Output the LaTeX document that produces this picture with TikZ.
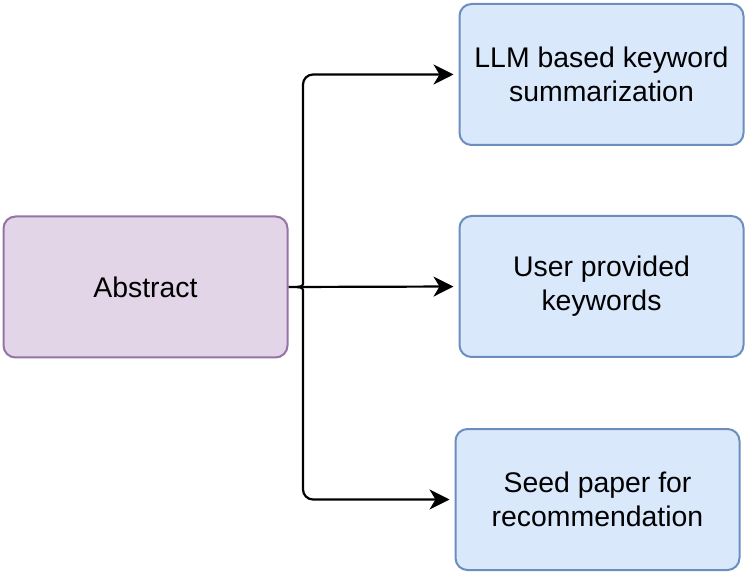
\documentclass[tikz,border=0pt]{standalone}
\usepackage{fontspec}
\setmainfont{Liberation Sans}
\usetikzlibrary{arrows.meta, positioning}

\definecolor{purpfill}{HTML}{E1D5E7}
\definecolor{purpline}{HTML}{9673A6}
\definecolor{bluefill}{HTML}{DAE8FC}
\definecolor{blueline}{HTML}{6C8EBF}

\begin{document}
\begin{tikzpicture}[
  x=0.5pt, y=-0.5pt,
  box/.style    = {draw, rounded corners=6pt, line width=1pt,
                   minimum width=142pt, minimum height=70.5pt,
                   align=center, font=\fontsize{14.2}{17}\selectfont},
  absbox/.style = {box, fill=purpfill, draw=purpline},
  kwbox/.style  = {box, fill=bluefill, draw=blueline},
  arr/.style    = {-{Stealth[length=10pt, width=10pt, inset=3pt]},
                   line width=1.1pt, shorten >=2.5pt}
]
\useasboundingbox (0,0) rectangle (747,581);

% Nodes
\node[absbox] (abs)  at (145.5,287)   {Abstract};
\node[kwbox]  (llm)  at (601.5,74.5)  {LLM based keyword\\summarization};
\node[kwbox]  (usr)  at (601.5,286.5) {User provided\\keywords};
\node[kwbox]  (seed) at (597.5,499.5) {Seed paper for\\recommendation};

% Brace tip
\coordinate (cusp) at (297,287);

% Arrows
\draw[arr] (abs.east) -- (usr.west);
\draw[arr, rounded corners=5pt] (cusp) .. controls (303,287) and (303,284) .. (303,274) |- (llm);
\draw[arr, rounded corners=5pt] (cusp) .. controls (303,287) and (303,290) .. (303,300) |- (seed);
\end{tikzpicture}
\end{document}
